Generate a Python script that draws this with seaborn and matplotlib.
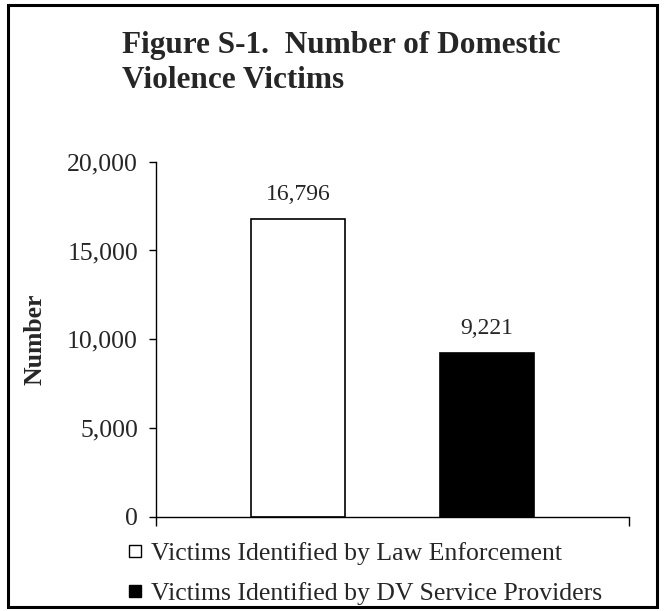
"""Figure S-1: number of domestic violence victims, by identifying source."""

import matplotlib
matplotlib.use("Agg")
import matplotlib.pyplot as plt
from matplotlib.lines import Line2D
from matplotlib.patches import Rectangle
from matplotlib.ticker import FuncFormatter
import pandas as pd
import seaborn as sns

sns.set_theme(style="white")
plt.rcParams["font.family"] = ["Liberation Serif", "DejaVu Serif"]

# --------------------------------------------------------------------------
# Data
# --------------------------------------------------------------------------
sources = [
    "Victims Identified by Law Enforcement",
    "Victims Identified by DV Service Providers",
]
victims = [16796, 9221]
bar_colors = ["white", "black"]
y_ticks = [0, 5000, 10000, 15000, 20000]

df = pd.DataFrame({"source": sources, "victims": victims})

W, H = 665, 611
fig = plt.figure(figsize=(W / 100, H / 100), dpi=100)
ax = fig.add_axes([156 / W, 1 - 516.8 / H, 473 / W, 355.1 / H])

sns.barplot(
    data=df, x="source", y="victims", hue="source", palette=bar_colors,
    order=sources, hue_order=sources, width=0.5, edgecolor="black",
    linewidth=1.2, ax=ax, legend=False,
)

for container in ax.containers:
    ax.bar_label(container, fmt="{:,.0f}", padding=10, fontsize=17)

ax.set_xlim(-0.75, 1.75)
ax.set_ylim(0, 20000)
ax.set_yticks(y_ticks)
ax.yaxis.set_major_formatter(FuncFormatter(lambda v, _: f"{v:,.0f}"))
ax.set_xticks([-0.75, 1.75])
ax.set_xticklabels(["", ""])
ax.set_xlabel("")
ax.set_ylabel("Number", fontsize=18.5, fontweight="bold", labelpad=15)

for side in ("top", "right"):
    ax.spines[side].set_visible(False)
for side in ("left", "bottom"):
    ax.spines[side].set_color("black")
    ax.spines[side].set_linewidth(1.0)

ax.tick_params(axis="y", direction="out", length=5, width=1.0, color="black",
               labelsize=18.5, pad=8, left=True)
ax.tick_params(axis="x", direction="out", length=6.5, width=1.0, color="black",
               bottom=True)

# square legend keys, like the original Excel chart
handles = [
    Line2D([], [], linestyle="", marker="s", markersize=8, markerfacecolor=c,
           markeredgecolor="black", markeredgewidth=1.0)
    for c in bar_colors
]
ax.legend(
    handles, sources,
    loc="upper left", bbox_to_anchor=(118 / W, 1 - 532 / H),
    bbox_transform=fig.transFigure, frameon=False, fontsize=18.5,
    handlelength=0.5, handletextpad=0.4,
    labelspacing=0.66, borderaxespad=0,
)

fig.text(122 / W, 1 - 53 / H, "Figure S-1.  Number of Domestic",
         fontsize=22.5, fontweight="bold", va="baseline", ha="left")
fig.text(122 / W, 1 - 88 / H, "Violence Victims",
         fontsize=22.5, fontweight="bold", va="baseline", ha="left")

fig.patches.append(Rectangle((7.5 / W, 1 - 607 / H), 649.5 / W, 602 / H,
                             transform=fig.transFigure, fill=False,
                             edgecolor="black", linewidth=2.2))

fig.savefig("out.png", dpi=100)
plt.close(fig)
